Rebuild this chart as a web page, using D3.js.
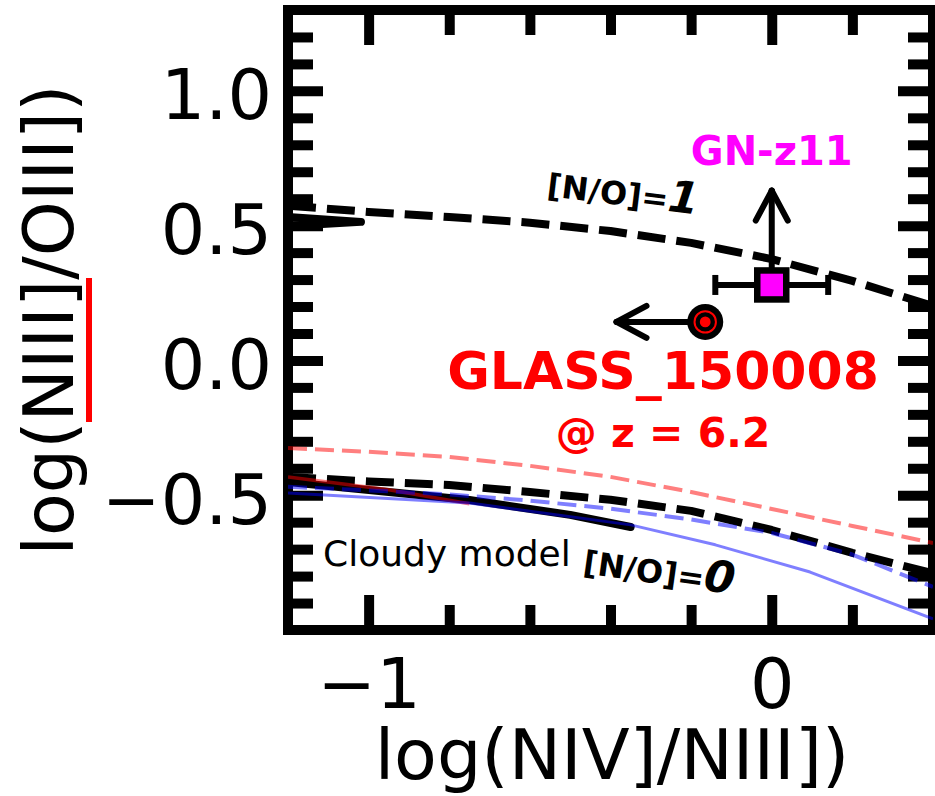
<!DOCTYPE html>
<html>
<head>
<meta charset="utf-8">
<script src="https://cdn.jsdelivr.net/npm/d3@7"></script>
<style>
  html, body { margin: 0; padding: 0; background: #fff; }
  svg { display: block; font-family: "DejaVu Sans", sans-serif; }
</style>
</head>
<body>
<svg id="chart" width="935" height="796"></svg>
<script>
// ---- data -------------------------------------------------------------
// Cloudy model grid, sampled along log(NIV]/NIII])
const gridX = [-1.2, -1.0, -0.8, -0.6, -0.4, -0.2, 0.0, 0.2, 0.4];
const modelNO1 = [0.574, 0.551, 0.532, 0.511, 0.480, 0.436, 0.376, 0.295, 0.202];
const modelNO0 = [-0.432, -0.449, -0.462, -0.488, -0.517, -0.558, -0.629, -0.714, -0.790];
const modelRedDashed = [-0.325, -0.339, -0.358, -0.391, -0.432, -0.488, -0.551, -0.614, -0.677];
const modelBlueDashed = [-0.469, -0.482, -0.497, -0.520, -0.550, -0.590, -0.640, -0.720, -0.840];

const blueSolidX = [-1.2, -0.75, -0.35, -0.14, 0.095, 0.4];
const blueSolidY = [-0.492, -0.529, -0.610, -0.684, -0.785, -0.959];

const redSolidX = [-1.2, -0.95, -0.75];
const redSolidY = [-0.432, -0.480, -0.532];

const blackSolidX = [-1.2, -0.75, -0.5, -0.35];
const blackSolidY = [-0.451, -0.518, -0.573, -0.618];

const blackHookX = [-1.2, -1.019, -1.2];
const blackHookY = [0.532, 0.514, 0.499];

// observed objects
const gnz11 = { name: "GN-z11", x: 0.0, y: 0.28, xerr: 0.14, limitDy: 0.35 };
const glass = { name: "GLASS_150008", sub: "@ z = 6.2", x: -0.165, y: 0.143, limitDx: -0.22 };

// axes
const xDomain = [-1.2, 0.4];
const yDomain = [-1.0, 1.3];
const xMajor = [-1, 0];
const xMinor = [-0.8, -0.6, -0.4, -0.2, 0.2];
const yMajor = [-0.5, 0.0, 0.5, 1.0];
const yMinor = [-0.9, -0.8, -0.7, -0.6, -0.4, -0.3, -0.2, -0.1, 0.1, 0.2, 0.3, 0.4, 0.6, 0.7, 0.8, 0.9, 1.1, 1.2];

// ---- layout -----------------------------------------------------------
const L = 288, R = 933, T = 10, B = 630;
const svg = d3.select("#chart");
const x = d3.scaleLinear().domain(xDomain).range([L, R]);
const y = d3.scaleLinear().domain(yDomain).range([B, T]);

const FRAME_W = 10;
const MAJ = 35, MIN = 25;

function styleAxis(g) {
  g.select(".domain").remove();
  g.selectAll(".tick line").attr("stroke", "#000").attr("stroke-width", FRAME_W);
}

// major ticks with labels
svg.append("g").attr("transform", `translate(0,${B})`)
  .call(d3.axisBottom(x).tickValues(xMajor).tickSizeInner(-MAJ).tickSizeOuter(0)
    .tickPadding(28).tickFormat(d3.format("d")))
  .call(styleAxis)
  .call(g => g.selectAll("text").attr("font-size", 70).attr("fill", "#000")
    .attr("font-family", "DejaVu Sans"));

svg.append("g").attr("transform", `translate(${L},0)`)
  .call(d3.axisLeft(y).tickValues(yMajor).tickSizeInner(-MAJ).tickSizeOuter(0)
    .tickPadding(16).tickFormat(d3.format(".1f")))
  .call(styleAxis)
  .call(g => g.selectAll("text").attr("font-size", 70).attr("fill", "#000")
    .attr("dy", "0.4em").attr("font-family", "DejaVu Sans"));

// mirrored major ticks
svg.append("g").attr("transform", `translate(0,${T})`)
  .call(d3.axisTop(x).tickValues(xMajor).tickSizeInner(-MAJ).tickSizeOuter(0).tickFormat(""))
  .call(styleAxis);
svg.append("g").attr("transform", `translate(${R},0)`)
  .call(d3.axisRight(y).tickValues(yMajor).tickSizeInner(-MAJ).tickSizeOuter(0).tickFormat(""))
  .call(styleAxis);

// minor ticks on all four sides
[[d3.axisBottom(x), `translate(0,${B})`, xMinor],
 [d3.axisTop(x), `translate(0,${T})`, xMinor],
 [d3.axisLeft(y), `translate(${L},0)`, yMinor],
 [d3.axisRight(y), `translate(${R},0)`, yMinor]].forEach(([ax, tr, vals]) => {
  svg.append("g").attr("transform", tr)
    .call(ax.tickValues(vals).tickSizeInner(-MIN).tickSizeOuter(0).tickFormat(""))
    .call(styleAxis);
});

// frame
svg.append("rect").attr("x", L).attr("y", T).attr("width", R - L).attr("height", B - T)
  .attr("fill", "none").attr("stroke", "#000").attr("stroke-width", FRAME_W);

// axis titles
svg.append("text").attr("x", 612).attr("y", 779).attr("text-anchor", "middle")
  .attr("font-size", 70).text("log(NIV]/NIII])");
svg.append("text").attr("transform", "translate(73,320) rotate(-90)")
  .attr("text-anchor", "middle").attr("font-size", 70).text("log(NIII]/OIII])");
svg.append("rect").attr("x", 86).attr("y", 278).attr("width", 6).attr("height", 144)
  .attr("fill", "red");

// ---- model curves -------------------------------------------------------
svg.append("clipPath").attr("id", "plotClip")
  .append("rect").attr("x", L).attr("y", T).attr("width", R - L).attr("height", B - T);
const plot = svg.append("g").attr("clip-path", "url(#plotClip)");

const line = d3.line().x(d => x(d[0])).y(d => y(d[1]));
const zipXY = (xs, ys) => xs.map((v, i) => [v, ys[i]]);

function curve(pts, opts) {
  plot.append("path").datum(pts).attr("d", line)
    .attr("fill", "none")
    .attr("stroke", opts.color)
    .attr("stroke-opacity", opts.opacity ?? 1)
    .attr("stroke-width", opts.width)
    .attr("stroke-dasharray", opts.dash ?? null)
    .attr("stroke-linecap", opts.cap ?? "butt")
    .attr("stroke-linejoin", "round");
}

curve(zipXY(blackHookX, blackHookY), { color: "#000", width: 8, cap: "round" });
curve(zipXY(blackSolidX, blackSolidY), { color: "#000", width: 8, cap: "round" });
curve(zipXY(gridX, modelNO1), { color: "#000", width: 8, dash: "28,11" });
curve(zipXY(gridX, modelNO0), { color: "#000", width: 8, dash: "28,11" });
curve(zipXY(gridX, modelRedDashed), { color: "red", opacity: 0.5, width: 4, dash: "19,8" });
curve(zipXY(redSolidX, redSolidY), { color: "red", opacity: 0.5, width: 3.5 });
curve(zipXY(gridX, modelBlueDashed), { color: "blue", opacity: 0.5, width: 4, dash: "19,8" });
curve(zipXY(blueSolidX, blueSolidY), { color: "blue", opacity: 0.5, width: 3 });

// ---- observed points ------------------------------------------------------
function arrow(x0, y0, x1, y1) {
  const g = svg.append("g").attr("stroke", "#000").attr("stroke-width", 6)
    .attr("stroke-linecap", "round").attr("fill", "none");
  g.append("line").attr("x1", x0).attr("y1", y0).attr("x2", x1).attr("y2", y1);
  const ang = Math.atan2(y1 - y0, x1 - x0);
  const len = 34, spread = Math.PI / 6.4;
  [ang + Math.PI - spread, ang + Math.PI + spread].forEach(a => {
    g.append("line").attr("x1", x1).attr("y1", y1)
      .attr("x2", x1 + len * Math.cos(a)).attr("y2", y1 + len * Math.sin(a));
  });
}

// GN-z11: lower limit on N III]/O III], x error bar
arrow(x(gnz11.x), y(gnz11.y), x(gnz11.x), y(gnz11.y + gnz11.limitDy));
const eb = svg.append("g").attr("stroke", "#000").attr("stroke-width", 6);
eb.append("line").attr("x1", x(gnz11.x - gnz11.xerr)).attr("x2", x(gnz11.x + gnz11.xerr))
  .attr("y1", y(gnz11.y)).attr("y2", y(gnz11.y));
[gnz11.x - gnz11.xerr, gnz11.x + gnz11.xerr].forEach(v => {
  eb.append("line").attr("x1", x(v)).attr("x2", x(v))
    .attr("y1", y(gnz11.y) - 10).attr("y2", y(gnz11.y) + 10);
});
svg.append("rect").attr("x", x(gnz11.x) - 14.5).attr("y", y(gnz11.y) - 14.5)
  .attr("width", 29).attr("height", 29)
  .attr("fill", "magenta").attr("stroke", "#000").attr("stroke-width", 6.5);
svg.append("text").attr("x", x(gnz11.x)).attr("y", 165).attr("text-anchor", "middle")
  .attr("font-size", 40).attr("font-weight", "bold").attr("fill", "magenta").text(gnz11.name);

// GLASS_150008: upper limit on N IV]/N III]
arrow(x(glass.x), y(glass.y), x(glass.x + glass.limitDx), y(glass.y));
svg.append("circle").attr("cx", x(glass.x)).attr("cy", y(glass.y)).attr("r", 18).attr("fill", "#000");
svg.append("circle").attr("cx", x(glass.x)).attr("cy", y(glass.y)).attr("r", 10.7)
  .attr("fill", "none").attr("stroke", "red").attr("stroke-width", 2);
svg.append("circle").attr("cx", x(glass.x)).attr("cy", y(glass.y)).attr("r", 5.4).attr("fill", "red");
svg.append("text").attr("x", 663).attr("y", 389).attr("text-anchor", "middle")
  .attr("font-size", 52).attr("font-weight", "bold").attr("fill", "red").text(glass.name);
svg.append("text").attr("x", 663).attr("y", 447).attr("text-anchor", "middle")
  .attr("font-size", 41).attr("font-weight", "bold").attr("fill", "red").text(glass.sub);

// ---- curve annotations --------------------------------------------------
function noLabel(tx, ty, rot, val) {
  const t = svg.append("text").attr("transform", `translate(${tx},${ty}) rotate(${rot})`)
    .attr("font-weight", "bold").attr("fill", "#000");
  t.append("tspan").attr("font-size", 32).text("[N/O]=");
  t.append("tspan").attr("font-size", 44).attr("font-style", "italic").text(val);
}
noLabel(546, 196, 7, "1");
noLabel(582, 573, 8, "0");

svg.append("text").attr("x", 323).attr("y", 566).attr("font-size", 36).text("Cloudy model");
</script>
</body>
</html>
